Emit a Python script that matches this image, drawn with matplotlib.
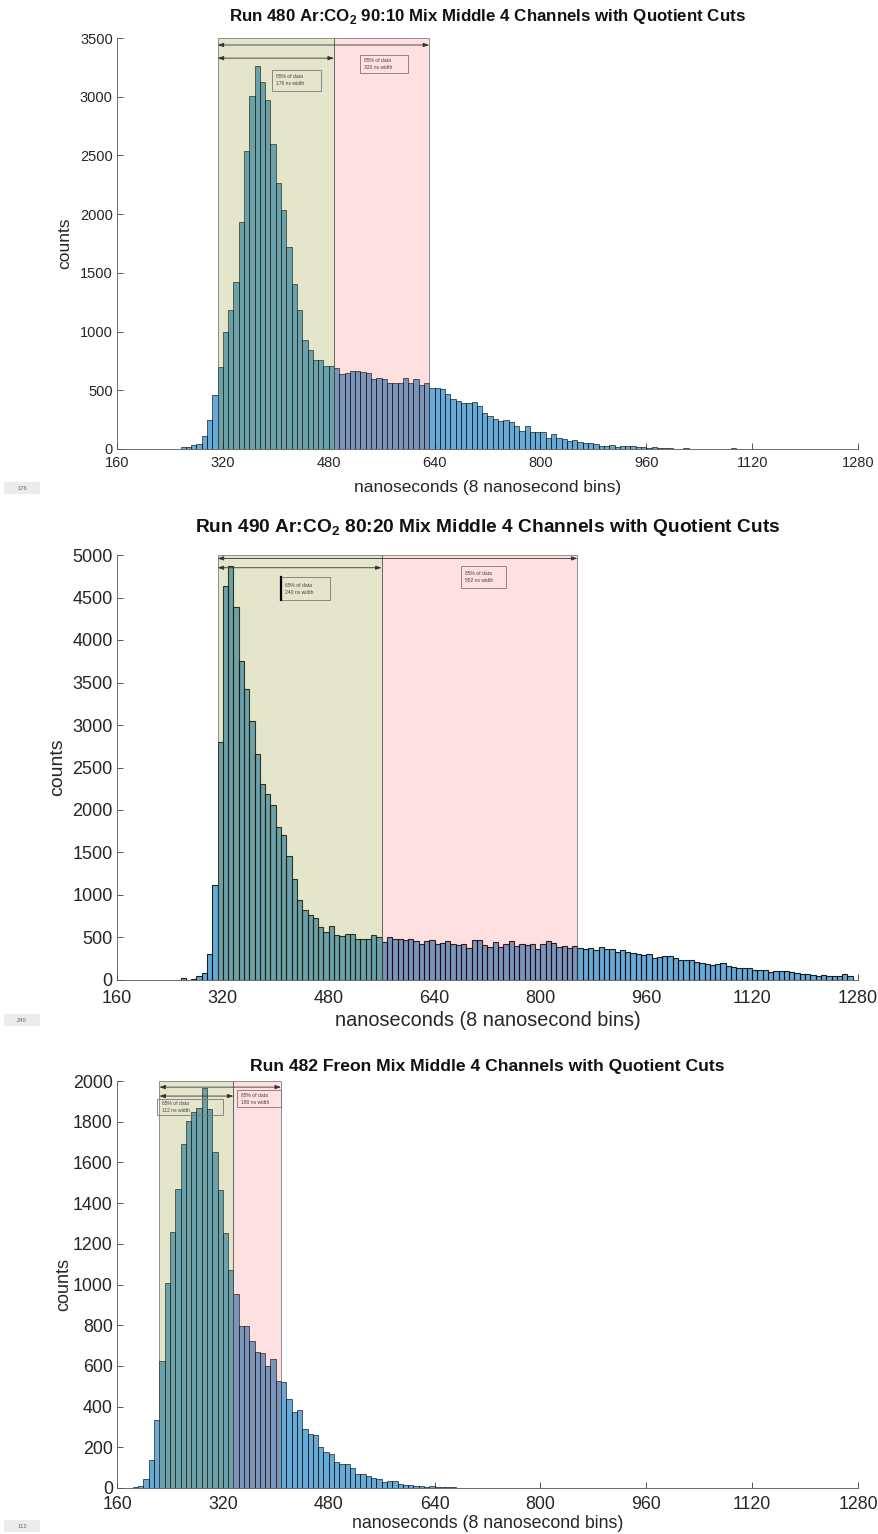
import matplotlib
matplotlib.use('Agg')
import matplotlib.pyplot as plt
import numpy as np
from matplotlib.patches import Rectangle

plt.rcParams['font.family'] = ['Liberation Sans', 'DejaVu Sans']
plt.rcParams['mathtext.fontset'] = 'custom'
plt.rcParams['mathtext.rm'] = 'Liberation Sans'
plt.rcParams['mathtext.bf'] = 'Liberation Sans:bold'

# ---------------- data ----------------
bin_width = 8
xticks = [160, 320, 480, 640, 800, 960, 1120, 1280]

# Run 480 Ar:CO2 90:10
run480_start = 256
run480_counts = [17, 20, 30, 40, 114, 245, 461, 695, 996, 1181, 1418, 1930, 2539, 3003, 3265,
                 3123, 2969, 2596, 2269, 2035, 1716, 1403, 1181, 925, 845, 760, 755, 703, 710,
                 690, 638, 650, 660, 665, 652, 645, 598, 603, 595, 561, 561, 565, 603, 561, 592,
                 543, 565, 518, 518, 510, 470, 424, 413, 390, 393, 398, 362, 305, 283, 256, 239,
                 250, 230, 199, 151, 196, 142, 142, 142, 97, 125, 94, 88, 65, 76, 57, 54, 48, 43,
                 28, 26, 37, 20, 23, 26, 23, 20, 20, 11, 14, 8, 8, 6, 4, 4, 6, 3, 2, 2, 2, 1, 1,
                 1, 2, 5, 1]
run480_cuts = [312, 488, 632]
run480_labels = ["65% of data\n176 ns width", "85% of data\n320 ns width"]

# Run 490 Ar:CO2 80:20
run490_start = 248
run490_counts = [5, 20, 5, 8, 47, 79, 307, 1118, 2799, 4630, 4870, 4386, 3752, 3421, 3043, 2661,
                 2307, 2189, 2063, 1803, 1709, 1457, 1185, 945, 827, 764, 732, 622, 563, 638, 535,
                 516, 539, 547, 484, 484, 484, 531, 500, 445, 500, 484, 484, 476, 488, 464, 421,
                 456, 468, 429, 441, 456, 429, 413, 425, 374, 468, 468, 409, 386, 445, 390, 425,
                 456, 397, 425, 417, 425, 366, 421, 456, 437, 390, 405, 378, 405, 374, 366, 382,
                 358, 390, 366, 362, 331, 350, 327, 319, 307, 299, 311, 264, 272, 279, 287, 260,
                 240, 232, 232, 216, 201, 193, 173, 193, 197, 169, 157, 146, 142, 142, 122, 122,
                 122, 98, 110, 106, 106, 94, 87, 75, 75, 59, 51, 59, 51, 51, 43, 75, 43]
run490_cuts = [312, 560, 856]
run490_labels = ["65% of data\n240 ns width", "85% of data\n552 ns width"]

# Run 482 Freon
run482_start = 176
run482_counts = [2, 3, 10, 43, 138, 334, 623, 1005, 1257, 1470, 1690, 1803, 1847, 1868, 1967,
                 1864, 1649, 1465, 1255, 1069, 954, 798, 798, 721, 669, 665, 600, 633, 526, 520,
                 436, 372, 385, 288, 265, 259, 203, 179, 168, 129, 117, 120, 97, 71, 67, 57, 48,
                 44, 28, 33, 33, 18, 16, 16, 11, 8, 5, 10, 7, 5, 3, 3, 2, 1, 1, 0, 2, 0, 1, 2,
                 1, 0, 0, 0, 0, 0, 0, 0, 0, 2]
run482_cuts = [224, 336, 408]
run482_labels = ["65% of data\n112 ns width", "85% of data\n180 ns width"]

titles = ["Run 480 Ar:CO$_\\mathbf{2}$ 90:10 Mix Middle 4 Channels with Quotient Cuts",
          "Run 490 Ar:CO$_\\mathbf{2}$ 80:20 Mix Middle 4 Channels with Quotient Cuts",
          "Run 482 Freon Mix Middle 4 Channels with Quotient Cuts"]
side_tags = ["176", "240", "112"]
xlabel = "nanoseconds (8 nanosecond bins)"
ylabel = "counts"

# ---------------- figure ----------------
W, H = 879, 1534
fig = plt.figure(figsize=(W / 100, H / 100), dpi=100)


def rect(l, t, r, b):
    return [l / W, 1 - b / H, (r - l) / W, (b - t) / H]


def fx(x):
    return x / W


def fy(y):
    return 1 - y / H


panels = [
    dict(start=run480_start, counts=run480_counts, cuts=run480_cuts, labels=run480_labels,
         box=(117, 38, 858, 449), ymax=3500, ystep=500, tfs=10.5, xpad=5, title_y=17, xl_y=487,
         yl_x=65, tag_y=488, ttl_fs=12.2, lab_fs=12.5, ylab_fs=12.5, edge_lw=0.5,
         arrows=(0.983, 0.951), gbox=(395, 0.872, 468, 0.922), rbox=(527, 0.915, 600, 0.959),
         thick=False),
    dict(start=run490_start, counts=run490_counts, cuts=run490_cuts, labels=run490_labels,
         box=(117, 555, 858, 980), ymax=5000, ystep=500, tfs=13, xpad=7, title_y=528, xl_y=1021,
         yl_x=58, tag_y=1020, ttl_fs=13.8, lab_fs=14.3, ylab_fs=14, edge_lw=0.8,
         arrows=(0.992, 0.970), gbox=(408, 0.894, 482, 0.948), rbox=(680, 0.922, 748, 0.974),
         thick=True),
    dict(start=run482_start, counts=run482_counts, cuts=run482_cuts, labels=run482_labels,
         box=(117, 1081, 858, 1488), ymax=2000, ystep=200, tfs=12.8, xpad=6, title_y=1066, xl_y=1524,
         yl_x=64, tag_y=1526, ttl_fs=12.6, lab_fs=12.8, ylab_fs=13, edge_lw=0.5,
         arrows=(0.985, 0.963), gbox=(220, 0.917, 320, 0.957), rbox=(342, 0.936, 408, 0.978),
         thick=False),
]

bar_face = (0.0, 0.447, 0.741, 0.6)
axis_col = '#3a3a3a'

for p, title, tag in zip(panels, titles, side_tags):
    l, t, r, b = p['box']
    ax = fig.add_axes(rect(l, t, r, b))
    counts = np.array(p['counts'], dtype=float)
    edges = p['start'] + bin_width * np.arange(len(counts))
    ax.bar(edges, counts, width=bin_width, align='edge', color=bar_face,
           edgecolor=(0, 0, 0, 0.85), linewidth=p['edge_lw'], zorder=2)
    ax.set_xlim(160, 1280)
    ax.set_ylim(0, p['ymax'])
    ax.set_xticks(xticks)
    ax.set_yticks(np.arange(0, p['ymax'] + 1, p['ystep']))
    ax.tick_params(direction='in', length=4, width=0.6, colors=axis_col,
                   labelsize=p['tfs'], labelcolor='#262626', pad=3)
    ax.tick_params(axis='x', pad=p['xpad'])
    for s in ['top', 'right']:
        ax.spines[s].set_visible(False)
    for s in ['left', 'bottom']:
        ax.spines[s].set_color('#555555')
        ax.spines[s].set_linewidth(0.6)

    c0, c1, c2 = p['cuts']
    ax.add_patch(Rectangle((c0, 0), c1 - c0, p['ymax'], facecolor=(0.5, 0.5, 0.0, 0.2),
                           edgecolor=(0.3, 0.3, 0.3, 0.6), linewidth=0.7, zorder=3))
    ax.add_patch(Rectangle((c1, 0), c2 - c1, p['ymax'], facecolor=(1.0, 0.0, 0.0, 0.12),
                           edgecolor=(0.3, 0.3, 0.3, 0.6), linewidth=0.7, zorder=3))

    trans = ax.get_xaxis_transform()
    a_out, a_in = p['arrows']
    for (x0, x1, yy) in [(c0, c2, a_out), (c0, c1, a_in)]:
        ax.annotate('', xy=(x1, yy), xytext=(x0, yy), xycoords=trans, textcoords=trans,
                    arrowprops=dict(arrowstyle='<|-|>,head_length=0.35,head_width=0.12',
                                    color='#333333', lw=0.6, shrinkA=0, shrinkB=0), zorder=5)

    for (bx0, by0, bx1, by1), txt in zip([p['gbox'], p['rbox']], p['labels']):
        ax.add_patch(Rectangle((bx0, by0), bx1 - bx0, by1 - by0, transform=trans,
                               facecolor='none', edgecolor='#777777', linewidth=0.6, zorder=5))
        ax.text(bx0 + (bx1 - bx0) * 0.08, (by0 + by1) / 2, txt, transform=trans,
                fontsize=3.6, color='#444444', va='center', ha='left', linespacing=1.5, zorder=6)
    if p['thick']:
        gx0, gy0, gx1, gy1 = p['gbox']
        ax.plot([gx0, gx0], [gy0, gy1], transform=trans, color='black', lw=1.6, zorder=6)

    fig.text(fx((l + r) / 2), fy(p['title_y']), title, ha='center', va='center',
             fontsize=p['ttl_fs'], fontweight='bold', color='#111111')
    fig.text(fx((l + r) / 2), fy(p['xl_y']), xlabel, ha='center', va='center',
             fontsize=p['lab_fs'], color='#262626')
    fig.text(fx(p['yl_x']), fy((t + b) / 2), ylabel, ha='center', va='center',
             rotation=90, fontsize=p['ylab_fs'], color='#262626')
    # small grey tag box at the left margin
    ty = p['tag_y']
    fig.patches.append(Rectangle((fx(4), fy(ty + 6)), fx(36), 12 / H, transform=fig.transFigure,
                                 facecolor='#ececec', edgecolor='none', zorder=1))
    fig.text(fx(22), fy(ty), tag, ha='center', va='center', fontsize=4.2, color='#666666')

fig.savefig('out.png', dpi=100)
